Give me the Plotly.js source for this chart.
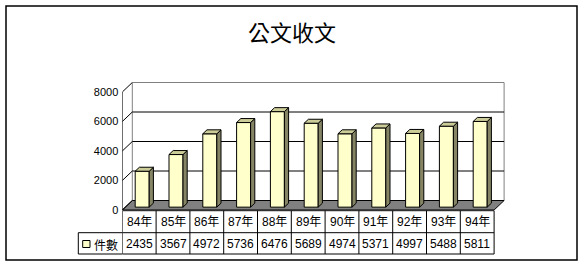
<!DOCTYPE html>
<html>
<head>
<meta charset="utf-8">
<script src="https://cdn.plot.ly/plotly-3.0.1.min.js"></script>
<style>html,body{margin:0;padding:0;background:#fff;}#chart{width:584px;height:266px;}</style>
</head>
<body>
<div id="chart"></div>
<script>
// ---- data ----
const chartTitle = '公文收文';
const seriesName = '件數';
const categories = ['84年','85年','86年','87年','88年','89年','90年','91年','92年','93年','94年'];
const counts = [2435, 3567, 4972, 5736, 6476, 5689, 4974, 5371, 4997, 5488, 5811];
const yTicks = [0, 2000, 4000, 6000, 8000];
const yTickLabels = ['0', '2000', '4000', '6000', '8000'];

// ---- geometry (pixels) ----
const W = 584, H = 266;
const X0PX = 122.3, COLPX = 33.8, XRIGHTPX = 507;
const Y0PX = 210, YTOPPX = 82, PXPERUNIT = 118 / 8000;
const WALL_DX_PX = 10, WALL_DY_PX = 9.5;
const DX = WALL_DX_PX / COLPX, DY = WALL_DY_PX / PXPERUNIT;
const N = categories.length;
const YMAX = (Y0PX - YTOPPX) / PXPERUNIT;
const XMAX = -0.5 + (XRIGHTPX - X0PX) / COLPX;
const F0 = 0.3, FD = 0.42;
const FX = F0 * DX, FY = F0 * DY, DDX = FD * DX, DDY = FD * DY;
const BW = 14 / COLPX;
const py = p => 1 - p / H;
const px = p => p / W;

const font = 'Liberation Sans Narrow, Liberation Sans, Noto Sans CJK TC, sans-serif';

// bars
const frontFace = {
  type: 'bar', x: counts.map((_, i) => i + FX), y: counts, base: FY, width: BW,
  marker: {color: '#FFFFCC', line: {color: '#000', width: 1}}, hoverinfo: 'skip', showlegend: false
};
const sx = [], sy = [], tx = [], ty = [];
counts.forEach((v, i) => {
  const xl = i + FX - BW / 2, xr = i + FX + BW / 2;
  sx.push(xr, xr + DDX, xr + DDX, xr, xr, null);
  sy.push(FY, FY + DDY, FY + v + DDY, FY + v, FY, null);
  tx.push(xl, xr, xr + DDX, xl + DDX, xl, null);
  ty.push(FY + v, FY + v, FY + v + DDY, FY + v + DDY, FY + v, null);
});
const sideFace = {type: 'scatter', mode: 'lines', x: sx, y: sy, fill: 'toself', fillcolor: '#858566',
  line: {color: '#000', width: 1}, hoverinfo: 'skip', showlegend: false};
const topFace = {type: 'scatter', mode: 'lines', x: tx, y: ty, fill: 'toself', fillcolor: '#CCCC99',
  line: {color: '#000', width: 1}, hoverinfo: 'skip', showlegend: false};

const shapes = [];
// back wall
shapes.push({type: 'rect', xref: 'x', yref: 'y', layer: 'below', x0: -0.5 + DX, x1: N - 0.5 + DX, y0: DY, y1: 8000 + DY,
  fillcolor: '#fff', line: {color: '#808080', width: 1}});
yTicks.slice(1, -1).forEach(v => shapes.push({type: 'line', xref: 'x', yref: 'y', layer: 'below',
  x0: -0.5 + DX, x1: N - 0.5 + DX, y0: v + DY, y1: v + DY, line: {color: '#000', width: 1}}));
// floor
shapes.push({type: 'path', xref: 'x', yref: 'y', layer: 'below',
  path: `M ${-0.5} 0 L ${N - 0.5} 0 L ${N - 0.5 + DX} ${DY} L ${-0.5 + DX} ${DY} Z`,
  fillcolor: '#808080', line: {color: '#000', width: 1}});
// left wall
shapes.push({type: 'line', xref: 'x', yref: 'y', layer: 'below', x0: -0.5, x1: -0.5, y0: 0, y1: 8000,
  line: {color: '#000', width: 1}});
yTicks.forEach(v => shapes.push({type: 'line', xref: 'x', yref: 'y', layer: 'below',
  x0: -0.5, x1: -0.5 + DX, y0: v, y1: v + DY, line: {color: '#000', width: 1}}));

// table
const R0 = 210.7, R1 = 232.7, R2 = 254, LEG0 = 78.3;
shapes.push({type: 'line', xref: 'x', yref: 'paper', x0: -0.5, x1: N - 0.5, y0: py(R0), y1: py(R0), line: {color: '#000', width: 1}});
[R1, R2].forEach(r => {
  shapes.push({type: 'line', xref: 'x', yref: 'paper', x0: -0.5, x1: N - 0.5, y0: py(r), y1: py(r), line: {color: '#000', width: 1}});
  shapes.push({type: 'line', xref: 'paper', yref: 'paper', x0: px(LEG0), x1: px(X0PX), y0: py(r), y1: py(r), line: {color: '#000', width: 1}});
});
for (let i = 0; i <= N; i++) {
  shapes.push({type: 'line', xref: 'x', yref: 'paper', x0: i - 0.5, x1: i - 0.5, y0: py(R0), y1: py(R2), line: {color: '#000', width: 1}});
}
shapes.push({type: 'line', xref: 'paper', yref: 'paper', x0: px(LEG0), x1: px(LEG0), y0: py(R1), y1: py(R2), line: {color: '#000', width: 1}});
// legend key
shapes.push({type: 'rect', xref: 'paper', yref: 'paper', x0: px(82.7), x1: px(90), y0: py(247.5), y1: py(240.5),
  fillcolor: '#FFFFCC', line: {color: '#000', width: 1}});
// outer border
shapes.push({type: 'rect', xref: 'paper', yref: 'paper', x0: px(6), x1: px(577), y0: py(260), y1: py(6),
  line: {color: '#000', width: 1.5}});

const annotations = [];
categories.forEach((c, i) => annotations.push({xref: 'x', yref: 'paper', x: i, y: py(222), text: c, showarrow: false,
  font: {family: font, size: 12, color: '#000'}, xanchor: 'center', yanchor: 'middle'}));
counts.forEach((v, i) => annotations.push({xref: 'x', yref: 'paper', x: i, y: py(244), text: String(v), showarrow: false,
  font: {family: font, size: 12, color: '#000'}, xanchor: 'center', yanchor: 'middle'}));
annotations.push({xref: 'paper', yref: 'paper', x: px(92), y: py(244), text: seriesName, showarrow: false,
  font: {family: 'Noto Sans CJK TC, sans-serif', size: 12, color: '#000'}, xanchor: 'left', yanchor: 'middle'});

const layout = {
  width: W, height: H, margin: {l: 0, r: 0, t: 0, b: 0, pad: 0},
  paper_bgcolor: '#fff', plot_bgcolor: 'rgba(0,0,0,0)',
  title: {text: chartTitle, x: 0.5, xanchor: 'center', y: py(33), yanchor: 'middle',
    font: {family: 'Noto Sans CJK TC, sans-serif', size: 22, color: '#000'}},
  xaxis: {domain: [px(X0PX), px(XRIGHTPX)], range: [-0.5, XMAX], visible: false, fixedrange: true},
  yaxis: {domain: [py(Y0PX), py(YTOPPX)], range: [0, YMAX], tickvals: yTicks, ticktext: yTickLabels,
    showgrid: false, zeroline: false, showline: false, ticks: '', ticklabelstandoff: 3,
    tickfont: {family: font, size: 11, color: '#000'}, fixedrange: true},
  shapes: shapes, annotations: annotations, showlegend: false
};
Plotly.newPlot('chart', [frontFace, sideFace, topFace], layout, {staticPlot: true, displayModeBar: false});
</script>
</body>
</html>
